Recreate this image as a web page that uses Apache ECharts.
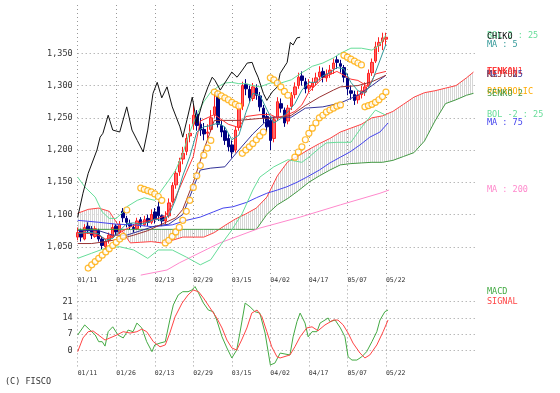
<!DOCTYPE html>
<html><head><meta charset="utf-8">
<script src="https://cdn.jsdelivr.net/npm/echarts/dist/echarts.min.js"></script>
<style>html,body{margin:0;padding:0;background:#fff}#c{width:560px;height:393px}</style>
</head><body><div id="c"></div>
<script>
// ---- tick labels ----
const dateLabels = ['01/11','01/26','02/13','02/29','03/15','04/02','04/17','05/07','05/22'];
const priceTicks = [1050,1100,1150,1200,1250,1300,1350];
const macdTicks = [0,7,14,21];

// ---- candles (day index 0 = 01/11) ----
const candleOpen  = [1065,1075,1062,1082,1078,1066,1075,1062,1050,1060,1066,1082,1072,1105,1094,1086,1080,1078,1092,1084,1094,1088,1104,1112,1098,1090,1098,1120,1146,1166,1186,1198,1222,1240,1256,1240,1232,1226,1232,1255,1285,1238,1230,1218,1208,1200,1235,1268,1302,1294,1280,1296,1284,1265,1252,1246,1218,1250,1272,1262,1245,1268,1286,1300,1315,1306,1296,1298,1305,1314,1322,1312,1318,1326,1340,1334,1328,1312,1292,1286,1278,1286,1290,1300,1320,1338,1362,1368,1372];
const candleClose = [1072,1065,1080,1075,1068,1078,1062,1052,1058,1068,1080,1073,1085,1095,1088,1082,1078,1090,1085,1092,1088,1100,1092,1098,1090,1096,1118,1145,1164,1182,1195,1218,1226,1254,1238,1231,1225,1228,1250,1267,1240,1228,1215,1205,1197,1231,1265,1300,1295,1281,1298,1285,1267,1250,1236,1215,1247,1275,1265,1242,1265,1285,1298,1313,1308,1295,1300,1304,1312,1321,1313,1318,1324,1335,1336,1330,1313,1295,1288,1277,1285,1292,1298,1319,1336,1360,1367,1374,1375];
const candleLow   = [1060,1058,1060,1070,1062,1064,1058,1046,1045,1055,1064,1068,1070,1088,1080,1076,1072,1076,1080,1082,1082,1085,1086,1090,1082,1085,1095,1118,1140,1160,1178,1192,1212,1232,1230,1222,1215,1218,1228,1250,1235,1220,1208,1198,1188,1196,1230,1262,1285,1275,1276,1278,1260,1242,1228,1200,1212,1245,1258,1236,1240,1262,1280,1295,1300,1288,1290,1292,1300,1308,1305,1306,1312,1318,1326,1320,1305,1285,1278,1270,1272,1280,1284,1296,1315,1335,1352,1355,1362];
const candleHigh  = [1080,1078,1085,1088,1082,1082,1078,1066,1062,1072,1086,1085,1090,1110,1098,1092,1085,1095,1096,1098,1100,1108,1110,1120,1100,1105,1125,1150,1170,1188,1205,1225,1240,1270,1262,1250,1242,1240,1262,1290,1292,1245,1236,1225,1215,1236,1272,1306,1310,1300,1304,1302,1290,1270,1258,1250,1252,1282,1280,1266,1270,1290,1305,1320,1322,1312,1310,1312,1320,1330,1328,1325,1332,1342,1346,1340,1332,1318,1300,1292,1292,1300,1305,1325,1342,1368,1375,1382,1382];

// ---- indicator lines: [day index, value] ----
const chikou = [[0,1096],[1.5,1133],[3,1164],[5.5,1200],[6.4,1220],[7.2,1226],[8.7,1254],[10,1231],[12,1228],[14,1267],[15.5,1231],[17,1215],[18.7,1197],[20,1231],[21.5,1288],[22.7,1305],[24,1281],[25.5,1298],[27,1267],[29.2,1236],[30,1220],[31.2,1247],[32.7,1282],[34,1242],[35.8,1277],[37.2,1298],[38.4,1313],[39.2,1308],[40.7,1293],[42,1304],[44,1321],[45.5,1313],[47,1324],[48.4,1335],[49.8,1336],[50.6,1324],[51.5,1313],[53,1288],[54,1277],[55.5,1290],[57,1298],[57.8,1319],[59.8,1336],[60.7,1367],[61.5,1363],[62.6,1374],[63.5,1375]];
const ma5 = [[0,1070],[2,1072],[4,1072],[6,1070],[8,1060],[10,1063],[12,1075],[14,1086],[16,1087],[18,1085],[20,1088],[22,1093],[24,1091],[26,1098],[28,1124],[30,1160],[32,1190],[34,1228],[36,1236],[38,1238],[40,1242],[42,1236],[44,1216],[46,1223],[48,1258],[50,1288],[52,1285],[54,1263],[56,1242],[58,1249],[60,1259],[62,1272],[64,1293],[66,1305],[68,1305],[70,1315],[72,1320],[74,1328],[76,1326],[78,1305],[80,1292],[82,1288],[84,1306],[86,1335],[88,1364]];
const tenkan = [[0,1072],[5,1070],[8,1062],[10,1065],[14,1078],[18,1088],[22,1092],[25,1098],[27,1115],[29,1140],[31,1165],[33,1190],[35,1245],[39,1255],[43,1240],[46,1235],[48,1252],[52,1255],[55,1255],[57,1250],[60,1255],[62,1260],[64,1270],[66,1290],[70,1312],[74,1322],[78,1310],[80,1308],[83,1298],[85,1318],[88,1322]];
const kijun = [[0,1055],[4,1055],[8,1058],[12,1062],[16,1068],[20,1075],[24,1085],[28,1095],[30,1108],[33,1150],[36,1200],[39,1246],[46,1246],[52,1249],[57,1250],[61,1254],[65,1269],[69,1282],[73,1293],[75,1298],[80,1300],[84,1306],[88,1316]];
const ma25 = [[0,1075],[6,1075],[10,1068],[14,1068],[18,1075],[22,1082],[26,1085],[30,1100],[35,1169],[38,1172],[42,1174],[46,1200],[50,1225],[55,1251],[61,1251],[65,1265],[70,1267],[75,1273],[80,1285],[84,1300],[88,1316]];
const bolUp = [[0,1158],[2,1143],[5,1127],[7,1104],[9,1094],[11,1094],[13,1104],[14,1112],[17,1122],[19,1126],[22,1122],[24,1138],[26,1153],[28,1169],[30,1195],[32,1228],[34,1255],[36,1275],[38,1290],[40,1298],[42,1304],[44,1305],[46,1303],[48,1303],[50,1300],[52,1298],[55,1304],[58,1304],[61,1309],[64,1320],[67,1330],[70,1335],[73,1343],[75,1350],[78,1358],[81,1358],[84,1355],[86,1362],[88,1378]];
const bolLow = [[0,1032],[4,1040],[8,1048],[12,1050],[16,1045],[20,1032],[23,1045],[27,1045],[31,1034],[35,1022],[38,1030],[41,1054],[44,1076],[47,1102],[50,1138],[52,1158],[56,1174],[60,1185],[64,1181],[66,1189],[69,1203],[71,1211],[74,1212],[78,1212],[81,1235],[85,1262],[88,1254]];
const ma75 = [[0,1091],[6,1088],[11,1085],[16,1084],[21.5,1081],[27,1084],[31,1091],[35,1096],[38.7,1104],[41.5,1110],[44.3,1112],[48.3,1119],[51,1126],[54,1133],[57,1138],[59.7,1143],[62.6,1150],[65.4,1158],[69,1169],[72,1180],[75,1189],[77.7,1197],[80.6,1208],[83.4,1220],[86.3,1228],[88.6,1242]];
const ma200 = [[18,1006],[25.5,1014],[29,1025],[40.6,1056],[52,1079],[63.5,1096],[75,1115],[86.3,1133],[88.9,1138]];
const kumoDays = [0,3,6,9,12,15,18,21,24,27,30,33,36,39,42,45,48,51,54,57,60,63,66,69,72,75,78,81,84,87,90,93,96,99,102,105,108,111,113];
const senkou1 = [1102,1108,1110,1105,1080,1056,1057,1058,1056,1060,1065,1065,1065,1072,1083,1093,1101,1110,1127,1160,1182,1191,1201,1210,1218,1228,1234,1240,1250,1253,1260,1271,1282,1289,1292,1296,1300,1312,1321];
const senkou2 = [1077,1077,1077,1077,1077,1077,1077,1077,1077,1077,1077,1077,1077,1077,1077,1077,1077,1077,1100,1115,1125,1137,1150,1160,1169,1177,1179,1180,1181,1181,1184,1190,1196,1214,1245,1272,1278,1285,1288];
const parabolic = [[3,1017],[4,1022],[5,1027],[6,1032],[7,1037],[8,1042],[9,1047],[10,1052],[11,1057],[12,1062],[13,1066],[14,1107],[18,1141],[19,1139],[20,1137],[21,1135],[22,1132],[23,1128],[24,1122],[25,1056],[26,1060],[27,1066],[28,1073],[29,1080],[30,1091],[31,1105],[32,1122],[33,1142],[34,1160],[35,1176],[36,1192],[37,1203],[38,1215],[39,1290],[40,1287],[41,1284],[42,1281],[43,1278],[44,1274],[45,1271],[46,1268],[47,1195],[48,1200],[49,1205],[50,1210],[51,1216],[52,1222],[53,1228],[55,1312],[56,1309],[57,1304],[58,1298],[59,1291],[60,1285],[62,1189],[63,1197],[64,1205],[65,1216],[66,1226],[67,1234],[68,1242],[69,1250],[70,1254],[71,1259],[72,1262],[73,1265],[74,1268],[75,1270],[76,1347],[77,1344],[78,1341],[79,1338],[80,1335],[81,1332],[82,1267],[83,1269],[84,1271],[85,1274],[86,1278],[87,1283],[88,1290]];
const macd = [[0,6.7],[2,11],[3.5,8.8],[5,6.7],[6,3.8],[7,3.8],[7.8,1.9],[8.7,8.1],[10,10.2],[11.5,6.7],[13,5.4],[14.4,8.8],[15.8,8.1],[16.9,11.8],[18.3,9.7],[19.7,3.8],[21.2,-0.5],[22,2.4],[23.5,3.2],[25,3.8],[26.3,13.1],[27.3,19.6],[28.7,23.9],[30,25.3],[31.5,25.3],[32.6,26],[33.5,27.5],[34.5,24.7],[35.9,20.4],[37.3,17.4],[38.7,16.7],[39.7,13.1],[41.2,5.9],[42.6,1.1],[44,-3.2],[45.4,0.2],[46.3,7.5],[47.8,20.4],[49.2,18.8],[50.6,16.7],[52,16.1],[53.5,7.5],[55,-6.2],[56.3,-5.4],[57.8,-1.1],[60.6,-1.9],[61.5,5.9],[62.6,12.4],[63.5,16.1],[64.9,11.8],[65.8,5.9],[66.9,8.1],[68.3,8.1],[69.2,11.8],[70.6,13.1],[71.5,14],[72,12.4],[73.5,13.1],[75,9.7],[76.3,5.9],[77.2,-2.7],[78.3,-4.1],[79.7,-4.1],[81.1,-2.7],[82.5,-0.5],[84,3.8],[85.4,8.1],[86.3,13.1],[87.7,16.7],[88.6,17.4]];
const signal = [[0,-0.5],[1.5,5.4],[3,8.1],[4.4,8.4],[5.9,6.7],[7.8,4.5],[9.2,5.4],[11.2,6.7],[13,8.1],[15,7.5],[16.9,8.1],[18.3,9.2],[19.7,8.1],[21.6,3.8],[23.5,1.6],[25,2.4],[26.3,7.5],[27.8,14.5],[29.8,20.4],[31.5,23.9],[33,26],[34.5,25.3],[35.9,22.6],[37.8,18.3],[39.7,14],[41.2,9.7],[42.6,4.5],[44,1.1],[45.4,0.2],[46.8,4.5],[48.3,9.7],[49.7,16.1],[51.2,17.4],[52.6,14.5],[54,8.1],[55.4,1.6],[56.9,-2.7],[57.8,-3.2],[60.6,-1.9],[62,1.6],[63.5,5.9],[65.4,9.7],[66.9,10.2],[68.6,8.5],[70.6,11],[73,13.1],[74.3,13.1],[75.8,11],[77.2,7.5],[78.6,3.2],[80.6,-1.1],[82,-3.2],[83.4,-1.9],[85.4,2.4],[87.2,8.1],[88.6,13.1]];

// ---- build ----
const chart = echarts.init(document.getElementById('c'), null, {renderer:'canvas'});
const GRID = '#999', T = 'rgba(0,0,0,0)';
const MONO = '"DejaVu Sans Mono", monospace';
const candles = candleOpen.map((o,i)=>[i,o,candleClose[i],candleLow[i],candleHigh[i]]);
const pc = document.createElement('canvas'); pc.width=2; pc.height=4;
const pg = pc.getContext('2d'); pg.fillStyle='#d6d6d6'; pg.fillRect(0,0,1,4);

function dateFmt(v){ return (v%11===0 && v/11<dateLabels.length) ? dateLabels[v/11] : ''; }
const xSplit = {show:true, lineStyle:{type:[1,3], color:[GRID,GRID,GRID,GRID,GRID,GRID,GRID,GRID,GRID,T,T,T,T]}};
function line(name,data,color,xi,yi,extra){
  return Object.assign({name,type:'line',data,xAxisIndex:xi||0,yAxisIndex:yi||0,symbol:'none',
    lineStyle:{color,width:1},itemStyle:{color},silent:true,animation:false,z:3},extra||{});
}
const option = {
  animation:false,
  grid:[{left:77.7,right:83,top:5,height:274},{left:77.7,right:83,top:285.4,height:81.4}],
  xAxis:[
    {type:'value',gridIndex:0,min:0,max:114,interval:11,axisLine:{show:false},axisTick:{show:false},axisLabel:{show:false},splitLine:xSplit},
    {type:'value',gridIndex:1,min:0,max:114,interval:11,axisLine:{show:false},axisTick:{show:false},
      axisLabel:{formatter:dateFmt,align:'left',fontSize:6.5,fontFamily:MONO,color:'#333',margin:3},splitLine:xSplit},
    {type:'value',gridIndex:1,position:'top',min:0,max:114,interval:11,axisLine:{show:false},axisTick:{show:false},z:10,
      axisLabel:{formatter:dateFmt,align:'left',fontSize:6.5,fontFamily:MONO,color:'#333',margin:2,backgroundColor:'#fff'},splitLine:{show:false}}
  ],
  yAxis:[
    {type:'value',gridIndex:0,min:1000,max:1425,interval:50,axisLine:{show:false},axisTick:{show:false},
      axisLabel:{formatter:v=>priceTicks.includes(v)?v.toLocaleString('en-US'):'',fontSize:8.5,fontFamily:MONO,color:'#333',margin:5},
      splitLine:{show:true,lineStyle:{type:[1,3],color:[T,GRID,GRID,GRID,GRID,GRID,GRID,GRID,T,T]}}},
    {type:'value',gridIndex:1,min:-7,max:28,interval:7,axisLine:{show:false},axisTick:{show:false},
      axisLabel:{formatter:v=>macdTicks.includes(v)?String(v):'',fontSize:8.5,fontFamily:MONO,color:'#333',margin:5},
      splitLine:{show:true,lineStyle:{type:[1,3],color:[T,GRID,GRID,GRID,GRID,T]}}}
  ],
  series:[
    {name:'kumo',type:'custom',coordinateSystem:'cartesian2d',xAxisIndex:0,yAxisIndex:0,data:[[0,senkou1[0]]],z:1,silent:true,
      renderItem:(params,api)=>{
        const pts=[];
        kumoDays.forEach((d,k)=>pts.push(api.coord([d,senkou1[k]])));
        for(let k=kumoDays.length-1;k>=0;k--) pts.push(api.coord([kumoDays[k],senkou2[k]]));
        return {type:'polygon',shape:{points:pts},style:{fill:{image:pc,repeat:'repeat'},stroke:null}};
      }},
    line('SENKO 1',kumoDays.map((d,k)=>[d,senkou1[k]]),'#ff4444'),
    line('SENKO 2',kumoDays.map((d,k)=>[d,senkou2[k]]),'#449944'),
    line('MA200',ma200,'#ff88cc'),
    line('MA75',ma75,'#4444ee'),
    line('BOL+2',bolUp,'#66dd99'),
    line('BOL-2',bolLow,'#66dd99'),
    {name:'candle',type:'candlestick',data:candles,encode:{x:0,y:[1,2,3,4]},barWidth:3,z:2,silent:true,
      itemStyle:{color:'#ff6666',color0:'#000080',borderColor:'#ff2222',borderColor0:'#000080',borderWidth:1}},
    line('MA25',ma25,'#333399'),
    line('KIJUN',kijun,'#993333'),
    line('TENKAN',tenkan,'#ff3333'),
    line('MA5',ma5,'#339999'),
    line('CHIKO',chikou,'#111111'),
    {name:'PARABOLIC',type:'scatter',data:parabolic,symbol:'circle',symbolSize:6,z:5,silent:true,
      itemStyle:{color:'#fff',borderColor:'#ffaa00',borderWidth:1.2}},
    line('MACD',macd,'#44aa44',1,1),
    line('SIGNAL',signal,'#ff4444',1,1)
  ]
};
chart.setOption(option);

const last = a => a[a.length-1][1];
const endLabels = [
  ['BOL 2 : 25','#66dd99',last(bolUp)],
  ['CHIKO','#111111',last(chikou)],
  ['MA : 5','#339999',last(ma5)],
  ['SENKO 1','#ff4444',senkou1[senkou1.length-1]],
  ['MA : 25','#333399',last(ma25)],
  ['KIJYUN','#993333',last(kijun)],
  ['TENKAN','#ff3333',last(tenkan)],
  ['PARABOLIC','#ffaa00',last(parabolic)],
  ['SENKO 2','#449944',senkou2[senkou2.length-1]],
  ['BOL -2 : 25','#66dd99',last(bolLow)],
  ['MA : 75','#4444ee',last(ma75)],
  ['MA : 200','#ff88cc',last(ma200)]
];
const graphics = endLabels.map(([t,c,v])=>{
  const py = chart.convertToPixel({gridIndex:0},[0,v])[1];
  return {type:'text',x:487,y:py,style:{text:t,fill:c,font:'8.5px '+MONO,verticalAlign:'middle',textVerticalAlign:'middle'}};
});
graphics.push({type:'text',x:487,y:292,style:{text:'MACD',fill:'#44aa44',font:'8.5px '+MONO,verticalAlign:'middle'}});
graphics.push({type:'text',x:487,y:302,style:{text:'SIGNAL',fill:'#ff4444',font:'8.5px '+MONO,verticalAlign:'middle'}});
graphics.push({type:'text',x:5,y:382,style:{text:'(C) FISCO',fill:'#333',font:'8.5px '+MONO,verticalAlign:'middle'}});
chart.setOption({graphic:graphics});
</script></body></html>
